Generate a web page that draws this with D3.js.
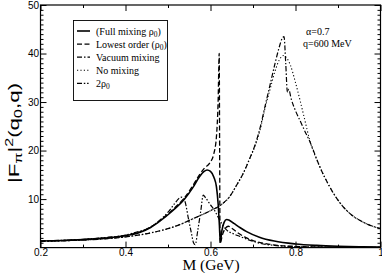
<!DOCTYPE html>
<html>
<head>
<meta charset="utf-8">
<script src="https://cdn.jsdelivr.net/npm/d3@7"></script>
<style>
  body { margin: 0; background: #fff; }
  svg { display: block; }
</style>
</head>
<body>
<div id="chart"></div>
<script>
// axis ticks
const xTicks = [0.2, 0.4, 0.6, 0.8, 1];
const xTickLabels = ["0.2", "0.4", "0.6", "0.8", "1"];
const xMinor = [0.3, 0.5, 0.7, 0.9];
const yTicks = [10, 20, 30, 40, 50];
const yMinor = d3.range(1, 50).filter(d => d % 10);

// legend, "_" marks a subscript
const legendLabels = ["(Full mixing ρ_0)", "Lowest order (ρ_0)", "Vacuum mixing", "No mixing", "2ρ_0"];
const notes = ["α=0.7", "q=600 MeV"];

// [M (GeV), |F|^2]
const fullMixing = [[0.2,1.35],[0.25,1.45],[0.3,1.65],[0.35,1.95],[0.4,2.45],[0.433,3.1],[0.46,4.2],[0.48,5.4],
  [0.511,7.6],[0.539,10.0],[0.558,12.3],[0.574,14.6],[0.585,15.7],[0.592,16.0],[0.6,15.7],[0.608,14.5],
  [0.614,12.5],[0.618,9.0],[0.621,4.5],[0.623,1.2],[0.627,3.6],[0.632,5.2],[0.638,5.8],[0.645,5.6],
  [0.655,5.0],[0.67,4.1],[0.685,3.3],[0.715,2.15],[0.75,1.35],[0.8,0.75],[0.85,0.45],[0.9,0.28],[0.95,0.18],[1.0,0.12]];
const lowestOrder = [[0.2,1.35],[0.25,1.45],[0.3,1.65],[0.35,1.95],[0.4,2.5],[0.433,3.2],[0.46,4.3],[0.48,5.5],
  [0.511,7.8],[0.539,10.3],[0.558,12.7],[0.574,15.0],[0.586,16.4],[0.598,17.4],[0.608,19.4],[0.614,22.9],
  [0.618,30.4],[0.6205,40],[0.6215,20],[0.6225,0.8],[0.628,2.6],[0.635,4.0],[0.642,4.4],[0.65,4.0],
  [0.665,3.0],[0.68,2.2],[0.7,1.45],[0.73,0.8],[0.76,0.45],[0.8,0.25],[0.85,0.13],[0.9,0.08],[1.0,0.04]];
const vacuumMixing = [[0.2,1.3],[0.25,1.4],[0.3,1.55],[0.35,1.8],[0.4,2.2],[0.457,3.0],[0.5,3.9],[0.535,5.0],
  [0.56,6.0],[0.6,7.6],[0.626,8.9],[0.645,10.5],[0.661,12.8],[0.677,15.3],[0.692,18.3],[0.705,21.2],
  [0.717,24.8],[0.728,29.0],[0.74,33.5],[0.752,38.0],[0.762,41.4],[0.769,43.2],[0.773,43.5],[0.777,38],
  [0.781,32],[0.784,32.6],[0.79,30.6],[0.8,28.2],[0.81,26.3],[0.822,24.0],[0.833,22.0],[0.857,16.7],
  [0.88,12.6],[0.904,9.3],[0.927,7.1],[0.958,5.3],[1.0,3.9]];
const noMixing = [[0.2,1.3],[0.25,1.4],[0.3,1.55],[0.35,1.8],[0.4,2.2],[0.457,3.0],[0.5,3.9],[0.535,5.0],
  [0.56,6.0],[0.6,7.6],[0.626,8.9],[0.645,10.5],[0.661,12.8],[0.677,15.3],[0.692,18.3],[0.705,21.0],
  [0.717,24.4],[0.728,28.6],[0.74,32.6],[0.752,36.4],[0.762,38.7],[0.772,39.6],[0.78,39.0],[0.788,37.6],
  [0.8,34.0],[0.81,30.6],[0.82,27.0],[0.833,22.3],[0.857,16.7],[0.88,12.6],[0.904,9.3],[0.927,7.1],
  [0.958,5.3],[1.0,3.9]];
const twoRho = [[0.2,1.35],[0.25,1.5],[0.3,1.7],[0.35,2.05],[0.4,2.6],[0.43,3.3],[0.457,4.1],[0.48,5.6],
  [0.5,7.3],[0.515,9.0],[0.527,10.2],[0.533,10.4],[0.54,9.5],[0.548,6.0],[0.555,3.0],[0.56,1.0],
  [0.564,0.6],[0.57,3.5],[0.577,7.5],[0.583,10.8],[0.588,10.3],[0.6,8.8],[0.61,7.6],[0.622,5.6],
  [0.637,3.7],[0.655,2.8],[0.669,2.3],[0.69,1.6],[0.716,0.9],[0.75,0.45],[0.8,0.2],[0.9,0.07],[1.0,0.03]];

const width = 382, height = 273;
const serif = "'Liberation Serif', 'Times New Roman', serif";

const svg = d3.select("#chart").append("svg")
    .attr("width", width).attr("height", height)
    .attr("viewBox", [0, 0, width, height]);

const x = d3.scaleLinear([0.2, 1], [40.5, 380.5]);
const y = d3.scaleLinear([0, 50], [247.6, 5]);

svg.append("clipPath").attr("id", "plot")
  .append("rect")
    .attr("x", x(0.2)).attr("y", y(50))
    .attr("width", x(1) - x(0.2)).attr("height", y(0) - y(50));

// ticks, all drawn inward
function ticks(axis, pos, values, size, labels) {
  const a = axis.tickValues(values).tickSize(-size).tickPadding(1.5)
    .tickFormat(labels ? (d, i) => labels[i] : "");
  svg.append("g")
      .attr("transform", pos)
      .attr("font-family", serif)
      .attr("font-size", 10)
      .call(a)
      .call(g => g.select(".domain").remove())
      .call(g => g.selectAll("line").attr("stroke", "#000"))
      .call(g => g.selectAll("text").attr("fill", "#000"));
}
ticks(d3.axisBottom(x), `translate(0,${y(0)})`, xTicks, 6, xTickLabels);
ticks(d3.axisBottom(x), `translate(0,${y(0)})`, xMinor, 3);
ticks(d3.axisTop(x), `translate(0,${y(50)})`, xTicks, 6);
ticks(d3.axisTop(x), `translate(0,${y(50)})`, xMinor, 3);
ticks(d3.axisLeft(y), `translate(${x(0.2)},0)`, yTicks, 6, yTicks.map(String));
ticks(d3.axisLeft(y), `translate(${x(0.2)},0)`, yMinor, 3);
ticks(d3.axisRight(y), `translate(${x(1)},0)`, yTicks, 6);
ticks(d3.axisRight(y), `translate(${x(1)},0)`, yMinor, 3);

svg.append("rect")
    .attr("x", x(0.2)).attr("y", y(50))
    .attr("width", x(1) - x(0.2)).attr("height", y(0) - y(50))
    .attr("fill", "none").attr("stroke", "#000").attr("stroke-width", 1.2);

// curves
const line = d3.line().x(d => x(d[0])).y(d => y(d[1])).curve(d3.curveMonotoneX);
const styles = [
  {data: noMixing, dash: "1.2,2.2", w: 1.1},
  {data: vacuumMixing, dash: "5,2,1.5,2", w: 1.2},
  {data: twoRho, dash: "5,1.8,1.5,1.8,1.5,1.8", w: 1.2},
  {data: lowestOrder, dash: "5,2.5", w: 1.3},
  {data: fullMixing, dash: null, w: 1.6}
];
svg.append("g").attr("clip-path", "url(#plot)")
  .selectAll("path")
  .data(styles)
  .join("path")
    .attr("d", d => line(d.data))
    .attr("fill", "none")
    .attr("stroke", "#000")
    .attr("stroke-width", d => d.w)
    .attr("stroke-dasharray", d => d.dash)
    .attr("stroke-linejoin", "round");

// text with "_" subscripts
function richText(sel, str, subSize) {
  str.split("_").forEach((part, i) => {
    if (i === 0) { sel.append("tspan").text(part); return; }
    sel.append("tspan").attr("dy", 2.5).attr("font-size", subSize).text(part[0]);
    sel.append("tspan").attr("dy", -2.5).text(part.slice(1));
  });
}

// legend
const legendOrder = [fullMixing, lowestOrder, vacuumMixing, noMixing, twoRho]
  .map(s => styles.find(t => t.data === s));
const lg = svg.append("g").attr("font-family", serif).attr("font-size", 10);
lg.append("rect")
    .attr("x", 73.5).attr("y", 20.5).attr("width", 94).attr("height", 80)
    .attr("fill", "#fff").attr("stroke", "#000").attr("stroke-width", 0.9);
legendLabels.forEach((label, i) => {
  const yy = 31 + i * 13.1;
  const st = legendOrder[i];
  lg.append("line")
      .attr("x1", 77).attr("x2", 90).attr("y1", yy).attr("y2", yy)
      .attr("stroke", "#000").attr("stroke-width", st.w)
      .attr("stroke-dasharray", st.dash);
  richText(lg.append("text").attr("x", 96).attr("y", yy + 3.5), label, 7.5);
});

// notes
svg.append("g").attr("font-family", serif).attr("font-size", 10)
  .selectAll("text").data(notes).join("text")
    .attr("x", (d, i) => i ? 303 : 306)
    .attr("y", (d, i) => i ? 47 : 35)
    .text(d => d);

// axis titles
svg.append("text")
    .attr("x", 211).attr("y", 269.5)
    .attr("text-anchor", "middle")
    .attr("font-family", serif).attr("font-size", 15.5)
    .text("M (GeV)");

const yt = svg.append("text")
    .attr("transform", "translate(19,133) rotate(-90) scale(1.6,1)")
    .attr("text-anchor", "middle")
    .attr("font-family", "'Liberation Sans', Arial, sans-serif")
    .attr("font-size", 14);
yt.append("tspan").text("|F");
yt.append("tspan").attr("dy", 3).attr("font-size", 10).text("π");
yt.append("tspan").attr("dy", -3).text("|");
yt.append("tspan").attr("dy", -6).attr("font-size", 10).text("2");
yt.append("tspan").attr("dy", 6).text("(q");
yt.append("tspan").attr("dy", 3).attr("font-size", 10).text("0");
yt.append("tspan").attr("dy", -3).text(",q)");
</script>
</body>
</html>
